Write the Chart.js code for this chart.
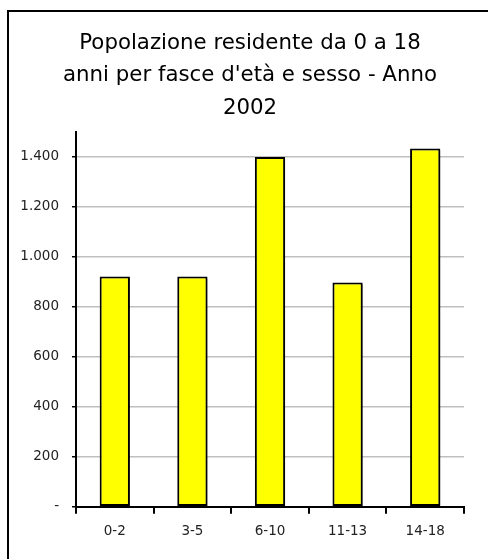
<!DOCTYPE html>
<html>
<head>
<meta charset="utf-8">
<script src="https://cdn.jsdelivr.net/npm/chart.js@4"></script>
<style>
  html, body { margin: 0; padding: 0; background: #fff; }
  #wrap { width: 488px; height: 559px; }
</style>
</head>
<body>
<div id="wrap"><canvas id="chart" width="488" height="559"></canvas></div>
<script>
var categories = ['0-2', '3-5', '6-10', '11-13', '14-18'];
var residents = [922, 922, 1400, 898, 1434];
var yTicks = [0, 200, 400, 600, 800, 1000, 1200, 1400];
var titleLines = ['Popolazione residente da 0 a 18', "anni per fasce d'età e sesso - Anno", '2002'];

var font = 'DejaVu Sans';

function fmt(v) {
    if (v === 0) return '-';
    return String(v).replace(/\B(?=(\d{3})+(?!\d))/g, '.');
}

// left and top frame line of the chart object
var frame = {
    id: 'frame',
    afterLayout(chart) {
        // the title is centred on the whole frame, not on the padded box
        chart.titleBlock.left = 12;
        chart.titleBlock.right = 488;
    },
    afterDraw(chart) {
        let ctx = chart.ctx;
        ctx.save();
        ctx.strokeStyle = '#000';
        ctx.lineWidth = 2;
        ctx.beginPath();
        ctx.moveTo(8, 559);
        ctx.lineTo(8, 11);
        ctx.lineTo(488, 11);
        ctx.stroke();
        ctx.restore();
    }
};

// little gray shadow behind bars
var barShadow = {
    id: 'barShadow',
    beforeDatasetDraw(chart) {
        let ctx = chart.ctx;
        ctx.save();
        ctx.shadowColor = 'rgba(0,0,0,0.35)';
        ctx.shadowOffsetX = 2;
        ctx.shadowOffsetY = 2;
        ctx.shadowBlur = 0;
    },
    afterDatasetDraw(chart) {
        chart.ctx.restore();
    }
};

let ctx = document.getElementById('chart');
let myChart = new Chart(ctx, {
    type: 'bar',
    data: {
        labels: categories,
        datasets: [{
            data: residents,
            backgroundColor: '#ffff00',
            borderColor: '#000',
            borderWidth: 2,
            borderSkipped: false,
            categoryPercentage: 1,
            barPercentage: 0.39
        }]
    },
    options: {
        responsive: false,
        animation: false,
        layout: {
            padding: { left: 12, right: 24, top: 22, bottom: 9 }
        },
        plugins: {
            legend: { display: false },
            tooltip: { enabled: false },
            title: {
                display: true,
                text: titleLines,
                color: '#000',
                font: { family: font, size: 21.3, weight: 'normal', lineHeight: '32.5px' },
                padding: { top: 5, bottom: 7.5 }
            }
        },
        scales: {
            x: {
                grid: {
                    display: true,
                    drawOnChartArea: false,
                    offset: true,
                    color: '#000',
                    lineWidth: 2,
                    tickLength: 7
                },
                border: { display: true, color: '#000', width: 2 },
                ticks: {
                    color: '#222',
                    padding: 10,
                    font: { family: font, size: 13.5 }
                }
            },
            y: {
                min: 0,
                max: 1500,
                afterBuildTicks(axis) {
                    axis.ticks = yTicks.map(v => ({ value: v }));
                },
                afterFit(axis) {
                    axis.width = 64;
                },
                grid: {
                    color: '#c0c0c0',
                    lineWidth: 1.5,
                    tickColor: '#000',
                    tickLength: 4
                },
                border: { display: true, color: '#000', width: 2 },
                ticks: {
                    color: '#222',
                    padding: 13,
                    font: { family: font, size: 13.5 },
                    callback: function (v) { return fmt(v); }
                }
            }
        }
    },
    plugins: [frame, barShadow]
});
</script>
</body>
</html>
